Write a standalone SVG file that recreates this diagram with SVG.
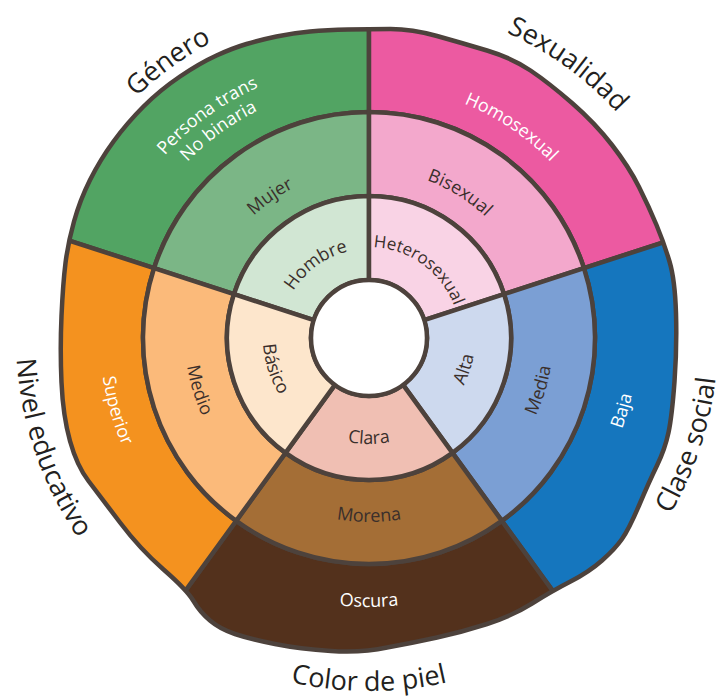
<svg xmlns="http://www.w3.org/2000/svg" width="724" height="698" viewBox="0 0 724 698">
<style>
.w{stroke:#4d423c;stroke-width:4.5;stroke-linejoin:round}
.t{font-family:"Open Sans","Noto Sans","DejaVu Sans",sans-serif;font-size:18px;fill:#3a2f2b;text-anchor:middle}
.wt{fill:#ffffff}
.cat{font-size:27px;fill:#231f20}
.o{clip-path:url(#outer)}
</style>
<defs>
<path id="outline" d="M 348 29.5 Q 369 29 390.5 29 Q 412 29 437 36 Q 462 43 487 50.5 Q 512 58 530.5 70.5 Q 549 83 572 103 Q 595 123 612 145 Q 629 167 639 187 Q 649 207 656.5 225 Q 664 243 669.5 261.5 Q 675 280 676 313.5 Q 677 347 674.5 381.5 Q 672 416 668.5 432.5 Q 665 449 657 465.5 Q 649 482 639 505.5 Q 629 529 622 539 Q 615 549 602 560.5 Q 589 572 570.5 581.5 Q 552 591 532 603.5 Q 512 616 487 624 Q 462 632 437 637.5 Q 412 643 387 647.5 Q 362 653 331 651 Q 300 649 275 644 Q 250 639 235 634 Q 220 629 210 620.5 Q 200 612 193.5 601 Q 187 590 163.5 569.5 Q 140 549 120 522.5 Q 100 496 88.5 481 Q 77 466 70 441 Q 63 416 61.5 382.5 Q 60 349 61.5 316 Q 63 283 65.5 263 Q 68 243 74 221.5 Q 80 200 90 180 Q 100 160 113.5 141.5 Q 127 123 143.5 106.5 Q 160 90 180 76.5 Q 200 63 216.5 55.5 Q 233 48 246.5 44 Q 260 40 276.5 36.5 Q 293 33 310 31.5 Q 327 30 348 29.5 Z"/>
<clipPath id="outer"><use href="#outline"/></clipPath>
<path id="cw89" d="M -89 0 A 89 89 0 0 1 89 0 A 89 89 0 0 1 -89 0"/>
<path id="cw91" d="M -91 0 A 91 91 0 0 1 91 0 A 91 91 0 0 1 -91 0"/>
<path id="cw168" d="M -168 0 A 168 168 0 0 1 168 0 A 168 168 0 0 1 -168 0"/>
<path id="cw253" d="M -253 0 A 253 253 0 0 1 253 0 A 253 253 0 0 1 -253 0"/>
<path id="cw274" d="M -274 0 A 274 274 0 0 1 274 0 A 274 274 0 0 1 -274 0"/>
<path id="cw335" d="M -335 0 A 335 335 0 0 1 335 0 A 335 335 0 0 1 -335 0"/>
<path id="ccw106" d="M -106 0 A 106 106 0 0 0 106 0 A 106 106 0 0 0 -106 0"/>
<path id="ccw184" d="M -184 0 A 184 184 0 0 0 184 0 A 184 184 0 0 0 -184 0"/>
<path id="ccw269" d="M -269 0 A 269 269 0 0 0 269 0 A 269 269 0 0 0 -269 0"/>
<path id="ccw349" d="M -349 0 A 349 349 0 0 0 349 0 A 349 349 0 0 0 -349 0"/>
<path id="ccw353" d="M -353 0 A 353 353 0 0 0 353 0 A 353 353 0 0 0 -353 0"/>
</defs>

<g id="genero">
<path class="w o" fill="#52a463" d="M -30.45 208.21 L 369 -82 L 369 112 A 226 226 0 0 0 154.06 268.16 Z"/>
<path class="w" fill="#7bb686" d="M 154.06 268.16 A 226 226 0 0 1 369 112 L 369 196 A 142 142 0 0 0 233.95 294.12 Z"/>
<path class="w" fill="#d1e6d3" d="M 233.95 294.12 A 142 142 0 0 1 369 196 L 369 280 A 58 58 0 0 0 313.84 320.08 Z"/>
<text class="t cat" transform="translate(369 338) rotate(-126)"><textPath href="#cw335" startOffset="50%">Género</textPath></text>
<text class="t wt" transform="translate(369 338) rotate(-126)"><textPath href="#cw274" startOffset="50%">Persona trans</textPath></text>
<text class="t wt" transform="translate(369 338) rotate(-126)"><textPath href="#cw253" startOffset="50%">No binaria</textPath></text>
<text class="t" transform="translate(369 338) rotate(-125)"><textPath href="#cw168" startOffset="50%">Mujer</textPath></text>
<text class="t" transform="translate(369 338) rotate(-126)"><textPath href="#cw89" startOffset="50%">Hombre</textPath></text>
</g>

<g id="sexualidad">
<path class="w o" fill="#ec5aa1" d="M 369 -82 L 768.45 208.21 L 583.94 268.16 A 226 226 0 0 0 369 112 Z"/>
<path class="w" fill="#f3a8cc" d="M 369 112 A 226 226 0 0 1 583.94 268.16 L 504.05 294.12 A 142 142 0 0 0 369 196 Z"/>
<path class="w" fill="#f9d3e5" d="M 369 196 A 142 142 0 0 1 504.05 294.12 L 424.16 320.08 A 58 58 0 0 0 369 280 Z"/>
<text class="t cat" transform="translate(369 338) rotate(-54)"><textPath href="#cw335" startOffset="50%">Sexualidad</textPath></text>
<text class="t wt" transform="translate(369 338) rotate(-56)"><textPath href="#cw253" startOffset="50%">Homosexual</textPath></text>
<text class="t" transform="translate(369 338) rotate(-58)"><textPath href="#cw168" startOffset="50%">Bisexual</textPath></text>
<text class="t" style="font-size:17px" transform="translate(369 338) rotate(-54)"><textPath href="#cw91" startOffset="50%">Heterosexual</textPath></text>
</g>

<g id="clase-social">
<path class="w o" fill="#1576be" d="M 768.45 208.21 L 615.87 677.79 L 501.84 520.84 A 226 226 0 0 0 583.94 268.16 Z"/>
<path class="w" fill="#7b9fd4" d="M 583.94 268.16 A 226 226 0 0 1 501.84 520.84 L 452.47 452.88 A 142 142 0 0 0 504.05 294.12 Z"/>
<path class="w" fill="#cdd9ee" d="M 504.05 294.12 A 142 142 0 0 1 452.47 452.88 L 403.09 384.92 A 58 58 0 0 0 424.16 320.08 Z"/>
<text class="t cat" transform="translate(369 338) rotate(18.5)"><textPath href="#ccw349" startOffset="50%">Clase social</textPath></text>
<text class="t wt" transform="translate(369 338) rotate(16)"><textPath href="#ccw269" startOffset="50%">Baja</textPath></text>
<text class="t" transform="translate(369 338) rotate(17)"><textPath href="#ccw184" startOffset="50%">Media</textPath></text>
<text class="t" transform="translate(369 338) rotate(18)"><textPath href="#ccw106" startOffset="50%">Alta</textPath></text>
</g>

<g id="color-de-piel">
<path class="w o" fill="#53311c" d="M 615.87 677.79 L 122.13 677.79 L 236.16 520.84 A 226 226 0 0 0 501.84 520.84 Z"/>
<path class="w" fill="#a46e36" d="M 501.84 520.84 A 226 226 0 0 1 236.16 520.84 L 285.53 452.88 A 142 142 0 0 0 452.47 452.88 Z"/>
<path class="w" fill="#f0bfb3" d="M 452.47 452.88 A 142 142 0 0 1 285.53 452.88 L 334.91 384.92 A 58 58 0 0 0 403.09 384.92 Z"/>
<text class="t cat" transform="translate(369 338) rotate(90)"><textPath href="#ccw353" startOffset="50%">Color de piel</textPath></text>
<text class="t wt" transform="translate(369 338) rotate(90)"><textPath href="#ccw269" startOffset="50%">Oscura</textPath></text>
<text class="t" transform="translate(369 338) rotate(90)"><textPath href="#ccw184" startOffset="50%">Morena</textPath></text>
<text class="t" transform="translate(369 338) rotate(90)"><textPath href="#ccw106" startOffset="50%">Clara</textPath></text>
</g>

<g id="nivel-educativo">
<path class="w o" fill="#f4921f" d="M 122.13 677.79 L -30.45 208.21 L 154.06 268.16 A 226 226 0 0 0 236.16 520.84 Z"/>
<path class="w" fill="#fbba7a" d="M 236.16 520.84 A 226 226 0 0 1 154.06 268.16 L 233.95 294.12 A 142 142 0 0 0 285.53 452.88 Z"/>
<path class="w" fill="#fde6cc" d="M 285.53 452.88 A 142 142 0 0 1 233.95 294.12 L 313.84 320.08 A 58 58 0 0 0 334.91 384.92 Z"/>
<text class="t cat" transform="translate(369 338) rotate(161)"><textPath href="#ccw353" startOffset="50%">Nivel educativo</textPath></text>
<text class="t wt" transform="translate(369 338) rotate(164)"><textPath href="#ccw269" startOffset="50%">Superior</textPath></text>
<text class="t" transform="translate(369 338) rotate(163)"><textPath href="#ccw184" startOffset="50%">Medio</textPath></text>
<text class="t" transform="translate(369 338) rotate(162)"><textPath href="#ccw106" startOffset="50%">Básico</textPath></text>
</g>

<g id="contorno">
<use href="#outline" fill="none" stroke="#4d423c" stroke-width="4.5" stroke-linejoin="round"/>
</g>

<g id="centro">
<circle class="w" cx="369" cy="338" r="58" fill="#ffffff"/>
</g>
</svg>
